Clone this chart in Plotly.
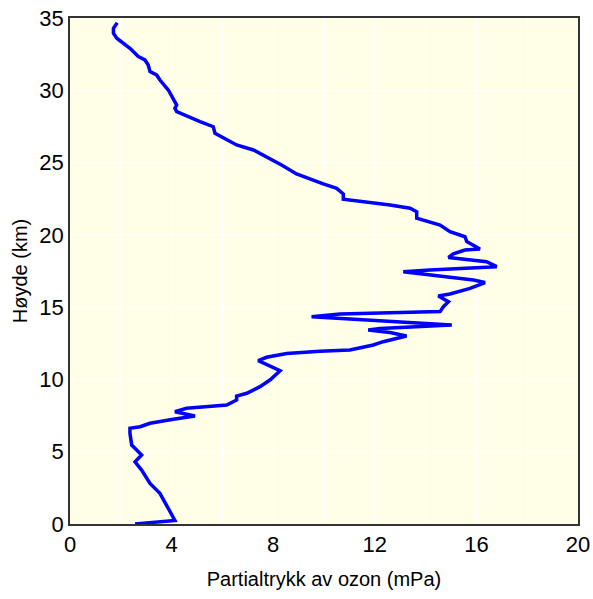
import plotly.graph_objects as go

# Ozone partial pressure (mPa) vs height (km)
ozone_mpa = [2.56, 4.13, 3.54, 3.15, 2.82, 2.56, 2.82, 2.43, 2.36, 2.36, 2.76, 3.15,
             4.07, 4.92, 4.13, 4.59, 6.17, 6.56, 6.56, 6.96, 7.48, 7.87, 8.27, 7.41,
             7.74, 8.53, 9.84, 11.02, 11.94, 12.33, 13.25, 12.6, 11.74, 12.2, 15.03,
             10.37, 9.51, 10.63, 14.57, 14.7, 14.9, 14.5, 14.96, 15.75, 16.34, 15.88,
             13.12, 14.17, 16.8, 16.4, 14.9, 15.09, 15.55, 16.14, 15.62, 15.55, 14.96,
             14.57, 13.91, 13.65, 13.65, 13.39, 12.6, 11.42, 10.76, 10.76, 10.5, 9.97,
             9.45, 8.92, 8.33, 7.74, 7.22, 6.56, 6.04, 5.71, 5.64, 5.12, 4.2, 4.13,
             4.2, 4.0, 3.87, 3.54, 3.41, 3.15, 3.08, 2.95, 2.69, 2.36, 2.1, 1.84,
             1.71, 1.71, 1.86]
height_km = [0.0, 0.25, 2.12, 2.8, 3.73, 4.3, 4.77, 5.46, 6.27, 6.62, 6.73, 6.97,
             7.24, 7.47, 7.77, 8.0, 8.23, 8.58, 8.85, 9.04, 9.5, 9.96, 10.6, 11.3,
             11.53, 11.8, 11.95, 12.04, 12.38, 12.61, 13.0, 13.24, 13.42, 13.53, 13.77,
             14.23, 14.34, 14.53, 14.69, 15.03, 15.38, 15.77, 15.91, 16.3, 16.7, 16.88,
             17.45, 17.57, 17.8, 18.14, 18.44, 18.68, 18.95, 19.02, 19.53, 19.87, 20.22,
             20.68, 21.03, 21.15, 21.6, 21.84, 22.07, 22.3, 22.46, 22.83, 23.22, 23.52,
             23.84, 24.21, 24.83, 25.41, 25.87, 26.22, 26.68, 27.02, 27.48, 27.83, 28.52, 28.75,
             28.98, 29.56, 30.02, 30.71, 31.06, 31.29, 31.75, 32.1, 32.33, 32.9, 33.25, 33.6,
             33.94, 34.29, 34.67]

x_ticks = [0, 4, 8, 12, 16, 20]
y_ticks = [0, 5, 10, 15, 20, 25, 30, 35]

fig = go.Figure()
fig.add_trace(go.Scatter(x=ozone_mpa, y=height_km, mode="lines",
                         line=dict(color="#0000FF", width=3.5), showlegend=False))

font = dict(family="Liberation Sans, Arial, sans-serif", color="#000000")
fig.update_layout(
    width=593, height=599,
    margin=dict(l=70, r=15, t=18, b=75),
    paper_bgcolor="white",
    plot_bgcolor="#FFFFE8",
    font=font,
    xaxis=dict(range=[0, 20], tickvals=x_ticks, ticks="", showgrid=True,
               gridcolor="white", gridwidth=1, automargin=False,
               ticklabeloverflow="allow",
               minor=dict(dtick=2, showgrid=True, gridcolor="white", gridwidth=1),
               showline=True, linecolor="#333333", linewidth=1.5, mirror=True,
               tickfont=dict(size=22), zeroline=False,
               title=dict(text="Partialtrykk av ozon (mPa)", font=dict(size=20), standoff=16)),
    yaxis=dict(range=[0, 35], tickvals=y_ticks, ticks="", showgrid=True,
               gridcolor="white", gridwidth=1, automargin=False,
               ticklabeloverflow="allow",
               showline=True, linecolor="#333333", linewidth=1.5, mirror=True,
               tickfont=dict(size=22), zeroline=False,
               title=dict(text="Høyde (km)", font=dict(size=20), standoff=6)),
)
fig.write_html("out.html",
               config={"displayModeBar": False},
               post_script="document.body.style.margin='0';document.body.style.overflow='hidden';")
